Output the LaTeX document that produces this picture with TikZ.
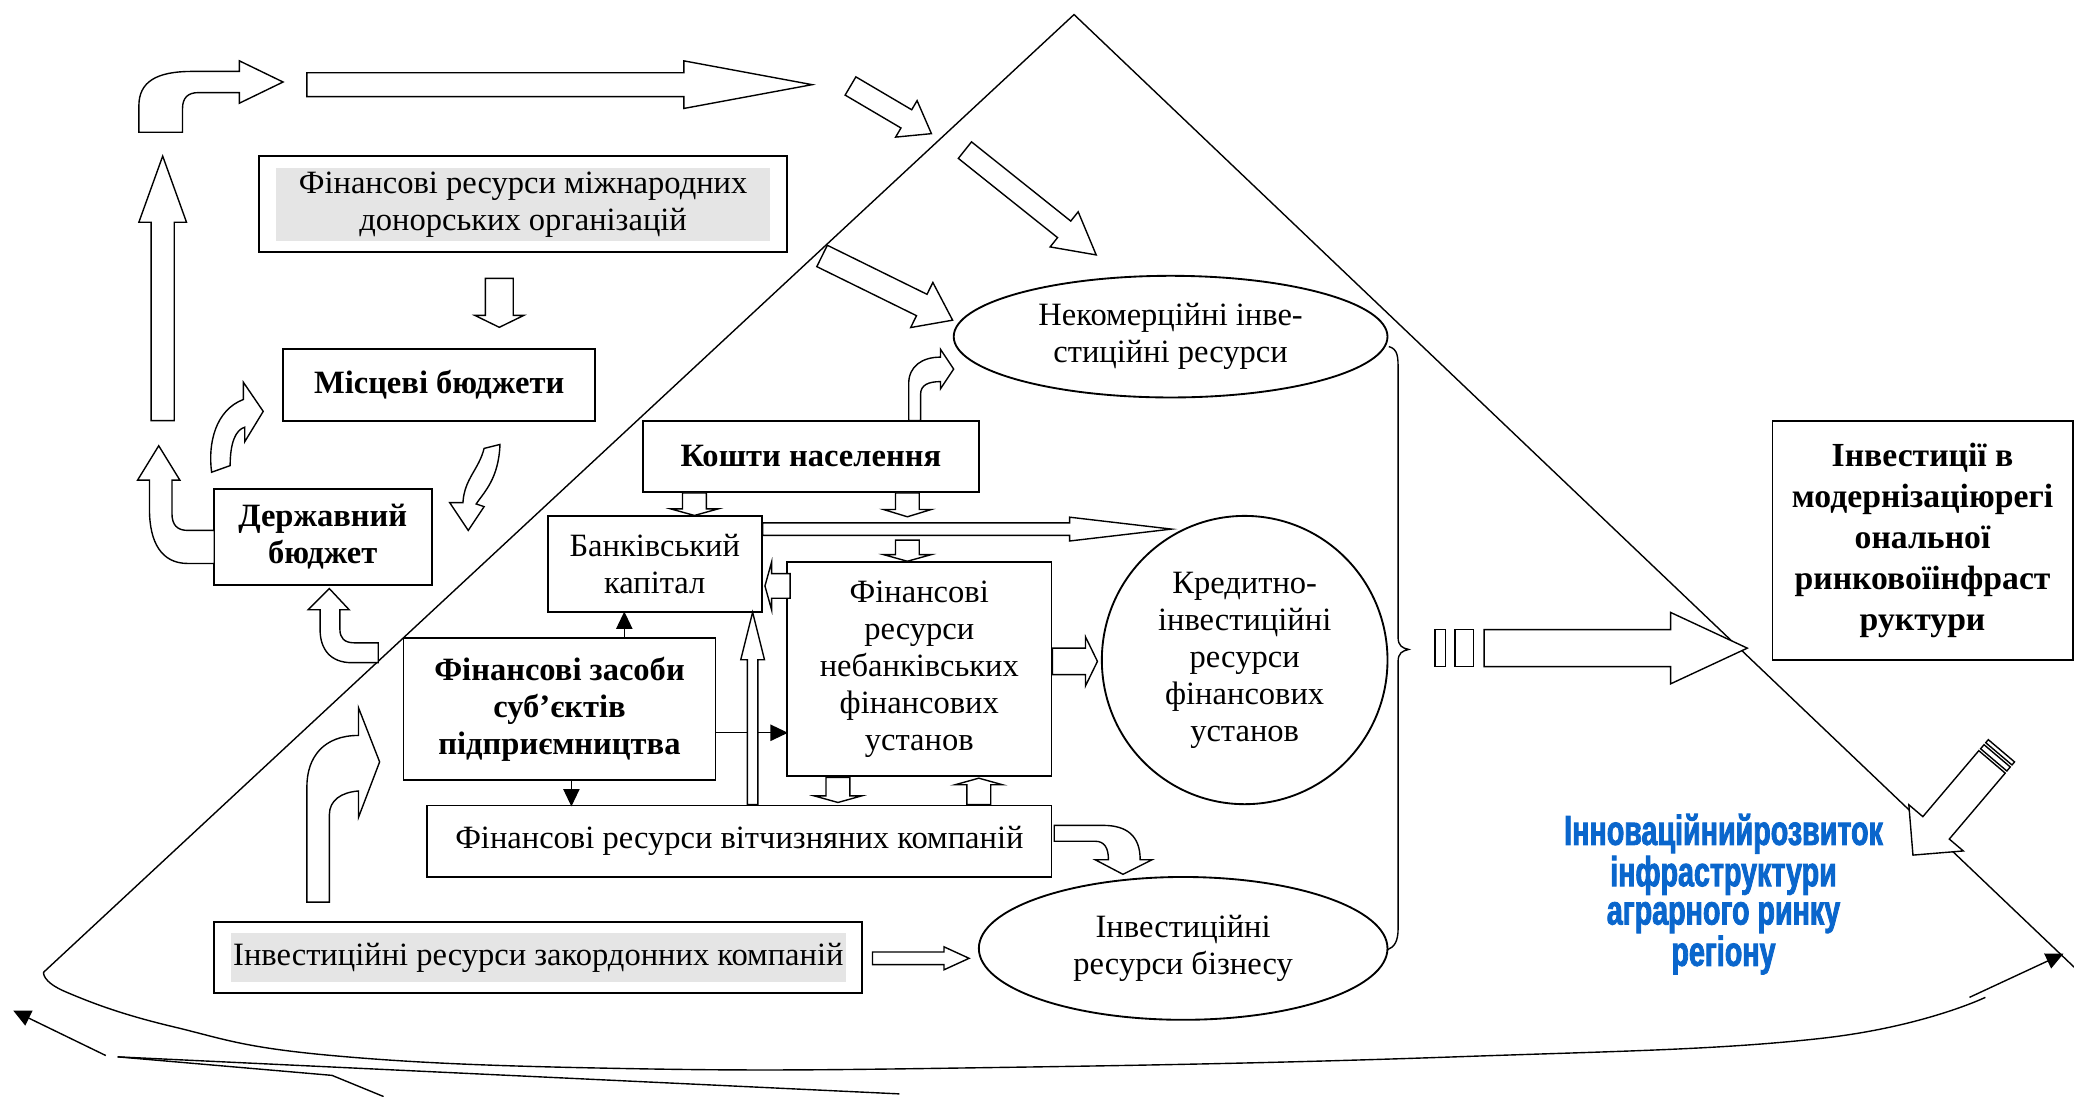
\documentclass[tikz,border=0pt]{standalone}
\usepackage{fontspec}
\setmainfont{Liberation Serif}
\newfontfamily\bluefont{Liberation Sans}[FakeStretch=0.685,FakeBold=2]
\usepackage{tikz}
\usetikzlibrary{positioning,calc,shapes.geometric,arrows.meta}
\definecolor{innoblue}{RGB}{10,102,204}
\tikzset{
	>={Triangle[length=7.5pt,width=7pt]}, % small filled heads for the thin links
	box/.style={draw, line width=0.8pt, inner sep=0pt, align=center, font=\fontsize{14}{15.9}\selectfont}, % plain frame
	boldbox/.style={box, font=\fontsize{14}{15.9}\selectfont\bfseries}, % frame with bold text
	graybox/.style={box, path picture={\fill[gray!20] ([shift={(0.25cm,-0.17cm)}]path picture bounding box.north west) rectangle ([shift={(-0.25cm,0.17cm)}]path picture bounding box.south east);}}, % frame with grey inset
	oval/.style={ellipse, draw, line width=0.8pt, inner sep=0pt, align=center, font=\fontsize{14}{15.9}\selectfont}, % resource pools
	blockarrow/.style={draw, fill=white, line width=0.6pt, line join=miter}, % hollow arrows
	thinline/.style={line width=0.6pt},
}
% hollow straight arrow: tail, angle, length, shaft half width, head half width, head length
\newcommand{\blockarr}[6]{%
	\draw[blockarrow, shift={#1}, rotate=#2] (0,-#4) -- ({#3-#6},-#4) -- ({#3-#6},-#5) -- (#3,0) -- ({#3-#6},#5) -- ({#3-#6},#4) -- (0,#4) -- cycle;
}

\begin{document}
\begin{tikzpicture}[x=0.02cm,y=-0.02cm]
	\useasboundingbox (0,0) rectangle (1568,829);
	
	% the triangle and the bottom sweep
	\draw[thinline] (33,735) -- (812,11) -- (1570,733);
	\draw[thinline] plot[smooth, tension=0.7] coordinates {(33,735) (50,750) (130,776) (251,798) (482,808) (756,807) (1100,799) (1377,785) (1501,754)};
	\coordinate (sweepend) at (1489,754);
	\coordinate (rightcorner) at (1560,721);
	\draw[thinline,->] (sweepend) -- (rightcorner);
	\coordinate (lefttail) at (80,798);
	\coordinate (lefttip) at (10,764);
	\draw[thinline,->] (lefttail) -- (lefttip);
	\draw[thinline] (89,799) -- (680,827);
	\draw[thinline] (89,799) -- (251,813) -- (290,829);
	
	% sources
	\node[graybox, minimum width=7.98cm, minimum height=1.45cm] (donors) at (395.5,154.5) {Фінансові ресурси міжнародних\\донорських організацій};
	\node[boldbox, minimum width=4.72cm, minimum height=1.08cm] (miscevi) at (332,291) {Місцеві бюджети};
	\node[boldbox, minimum width=3.3cm, minimum height=1.45cm] (derzh) at (244,406) {Державний\\бюджет};
	\node[boldbox, minimum width=5.08cm, minimum height=1.08cm] (kosh) at (613,345) {Кошти населення};
	\node[box, minimum width=3.24cm, minimum height=1.46cm] (bank) at (495,426.5) {Банківський\\капітал};
	\node[box, minimum width=4cm, minimum height=3.24cm] (nebank) at (695,506) {Фінансові\\ресурси\\небанківських\\фінансових\\установ};
	\node[boldbox, minimum width=4.72cm, minimum height=2.16cm] (zasoby) at (423,536) {Фінансові засоби\\суб’єктів\\підприємництва};
	\node[box, minimum width=9.44cm, minimum height=1.08cm] (vitch) at (559,636) {Фінансові ресурси вітчизняних компаній};
	\node[graybox, minimum width=9.8cm, minimum height=1.08cm] (zakord) at (407,724) {Інвестиційні ресурси закордонних компаній};
	
	% pools
	\node[oval, minimum width=6.56cm, minimum height=1.84cm] (nekom) at (885,254.5) {Некомерційні інве-\\стиційні ресурси};
	\node[oval, minimum width=4.32cm, minimum height=4.36cm] (kredit) at (941,499) {Кредитно-\\інвестиційні\\ресурси\\фінансових\\установ};
	\node[oval, minimum width=6.18cm, minimum height=2.16cm] (biznes) at (894.5,717) {Інвестиційні\\ресурси бізнесу};
	\draw[thinline] (1050,262) .. controls (1057,264) and (1057,270) .. (1057,280) -- (1057,482) .. controls (1057,488) and (1060,490) .. (1065,491) .. controls (1060,492) and (1057,494) .. (1057,500) -- (1057,702) .. controls (1057,712) and (1054,716) .. (1049,718);
	
	% result
	\node[boldbox, minimum width=4.54cm, minimum height=3.62cm, font=\fontsize{14.5}{17.6}\selectfont\bfseries] (invest) at (1453.5,408.5) {Інвестиції в\\модернізаціюрегі\\ональної\\ринковоїінфраст\\руктури};
	\node[font=\bluefont\bfseries\fontsize{18}{16.5}\selectfont, text=innoblue, align=center] (innov) at (1303,676) {Інноваційнийрозвиток\\інфраструктури\\аграрного ринку\\регіону};
	
	% thin links
	\draw[thinline,->] ([xshift=0.98cm]zasoby.north) -- ++(0,-19);
	\draw[thinline,->] ([yshift=-0.36cm]zasoby.east) -- ++(54,0);
	\draw[thinline,->] ([xshift=0.18cm]zasoby.south) -- ++(0,19);
	
	% straight hollow arrows
	\blockarr{(232,64)}{0}{382}{9}{18}{97}
	\blockarr{(643,65)}{-30.5}{71}{8}{16}{22}
	\blockarr{(729.5,113.5)}{-38.6}{127}{8}{17}{31}
	\blockarr{(621.5,193.5)}{-26.2}{110}{9}{19}{26}
	\blockarr{(123,318)}{90}{200}{8.7}{18}{50}
	\blockarr{($(donors.south)+(-18,19)$)}{-90}{37}{10.5}{18.5}{9}
	\blockarr{($(kosh.south)+(-88,0)$)}{-90}{17}{9}{18}{5}
	\blockarr{($(kosh.south)+(73,0)$)}{-90}{18}{9}{18}{5.5}
	\blockarr{($(nebank.north)+(-9,-16)$)}{-90}{16}{9}{18}{5}
	\blockarr{($(bank.east)+(0,-26.5)$)}{0}{309}{4.7}{9}{77}
	\blockarr{($(nebank.west)+(3,-63)$)}{180}{19}{9.3}{18}{5}
	\blockarr{($(vitch.north)+(10,0)$)}{90}{145.5}{4}{9}{36}
	\blockarr{($(nebank.south)+(-61.5,0)$)}{-90}{19}{9}{18}{5}
	\blockarr{($(vitch.north)+(181,0)$)}{90}{20}{9}{18}{5}
	\blockarr{($(nebank.east)+(0,-6)$)}{0}{34}{10}{18.5}{9}
	\blockarr{($(zakord.east)+(7,0.5)$)}{0}{73}{4.8}{8.7}{19}
	
	% striped arrows
	\draw[blockarrow] (1085,476) rectangle (1093,504);
	\draw[blockarrow] (1100,476) rectangle (1114,504);
	\blockarr{(1122,490)}{0}{199}{14}{27}{58}
	\begin{scope}[shift={(1506,576)}, rotate=-130.3]
		\draw[blockarrow] (-6,-13) rectangle (-2,13);
		\draw[blockarrow] (-11,-13) rectangle (-8,13);
	\end{scope}
	\blockarr{(1506,576)}{-130.3}{92.4}{13.1}{27}{27}
	
	% bent hollow arrows
	\draw[blockarrow] (105,100) -- (105,80) .. controls (105,62) and (118,54) .. (145,54) -- (181,54) -- (181,46) -- (214,62) -- (181,78) -- (181,70) -- (150,70) .. controls (142,70) and (138,74) .. (138,82) -- (138,100) -- cycle;
	\draw[blockarrow] (162,426) -- (142,426) .. controls (122,426) and (113,410) .. (113,385) -- (113,363) -- (104,363) -- (120,337) -- (136,363) -- (130,363) -- (130,388) .. controls (130,397) and (134,401) .. (142,401) -- (162,401) -- cycle;
	\draw[blockarrow] (160,357) .. controls (157,335) and (163,310) .. (184,302) -- (184,289) -- (199,311) -- (185,334) -- (185,323) .. controls (178,325) and (174,335) .. (174,352) -- cycle;
	\draw[blockarrow] (366,339) .. controls (362,355) and (351,362) .. (350,380) -- (340,380) -- (354,401) -- (366,383) -- (360,381) .. controls (366,372) and (377,362) .. (378,336) -- cycle;
	\draw[blockarrow] (286,501) -- (266,501) .. controls (250,501) and (242,491) .. (242,476) -- (242,461) -- (233,461) -- (249,445) -- (264,461) -- (257,461) -- (257,476) .. controls (257,482) and (260,486) .. (268,486) -- (286,486) -- cycle;
	\draw[blockarrow] (232,682) -- (232,595) .. controls (232,572) and (245,556) .. (271,556) -- (271,535) -- (287,576) -- (271,618) -- (271,598) .. controls (258,599) and (249,605) .. (249,616) -- (249,682) -- cycle;
	\draw[blockarrow] (687,318) -- (687,290) .. controls (687,277) and (697,270) .. (711,270) -- (711,264) -- (721,279) -- (711,294) -- (711,288.5) .. controls (702,288.5) and (696,291) .. (696,298) -- (696,318) -- cycle;
	\draw[blockarrow] (797,624) -- (834,624) .. controls (852,624) and (862,632) .. (862,650) -- (871,650) -- (849,661) -- (828,650) -- (838,650) .. controls (838,641) and (835,636) .. (828,636) -- (797,636) -- cycle;
\end{tikzpicture}
\end{document}
